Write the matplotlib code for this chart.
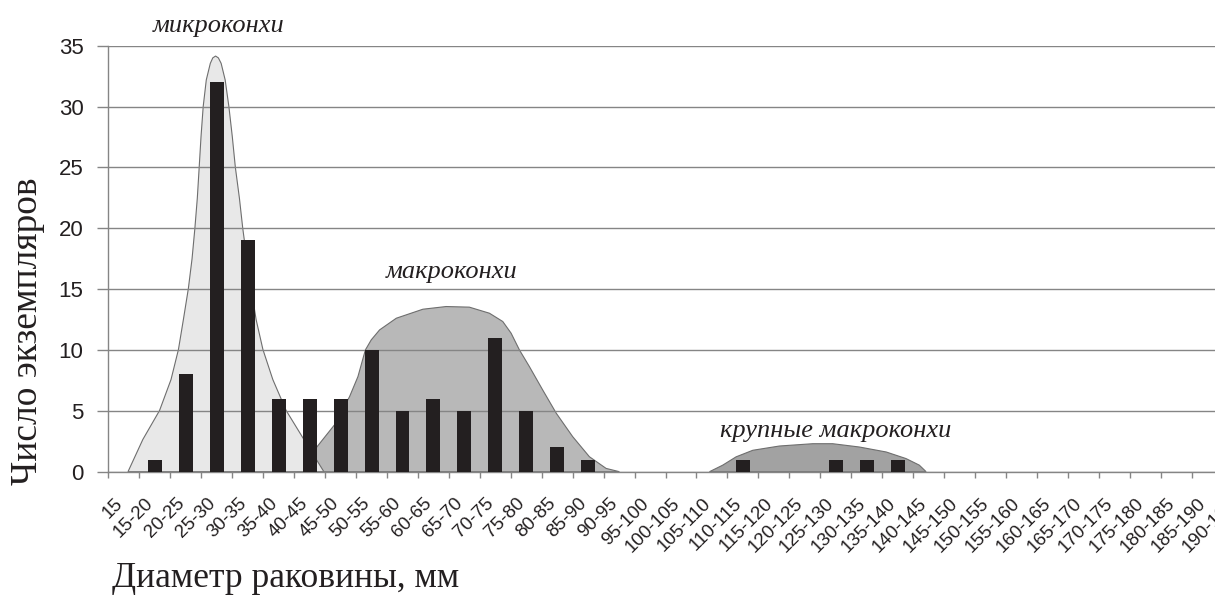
import matplotlib
matplotlib.use('Agg')
import matplotlib.pyplot as plt
import matplotlib.transforms as mtransforms

# size classes (mm) and counts
classes = ['15', '15-20', '20-25', '25-30', '30-35', '35-40', '40-45', '45-50',
           '50-55', '55-60', '60-65', '65-70', '70-75', '75-80', '80-85', '85-90',
           '90-95', '95-100', '100-105', '105-110', '110-115', '115-120', '120-125',
           '125-130', '130-135', '135-140', '140-145', '145-150', '150-155', '155-160',
           '160-165', '165-170', '170-175', '175-180', '180-185', '185-190', '190-195']
counts = [0, 1, 8, 32, 19, 6, 6, 6, 10, 5, 6, 5, 11, 5, 2, 1,
          0, 0, 0, 0, 1, 0, 0, 1, 1, 1, 0, 0, 0, 0, 0, 0, 0, 0, 0, 0, 0]

# envelope outlines (x in class index, y in count)
micro_x = [0.13, 0.61, 1.15, 1.52, 1.76, 1.92, 2.08, 2.20, 2.29, 2.37, 2.43, 2.49,
           2.56, 2.66, 2.79, 2.87, 2.96, 3.05, 3.14, 3.27, 3.39, 3.50, 3.60, 3.73,
           3.84, 3.97, 4.11, 4.27, 4.49, 4.81, 5.24, 5.85, 6.46]
micro_y = [0, 2.65, 5.03, 7.57, 10.04, 12.5, 15.04, 17.5, 19.96, 22.48, 24.99, 27.54,
           30.0, 32.19, 33.55, 34.0, 34.15, 34.0, 33.55, 32.19, 30.0, 27.54, 24.99, 22.48,
           19.96, 17.5, 15.04, 12.5, 10.04, 7.57, 5.03, 2.5, 0]

macro_x = [5.60, 6.16, 6.80, 7.29, 7.56, 7.80, 7.99, 8.26, 8.80, 9.66, 10.41, 11.16,
           11.81, 12.24, 12.51, 12.78, 13.10, 13.53, 13.97, 14.50, 15.04, 15.58, 16.01]
macro_y = [0, 1.8, 3.84, 6.17, 7.81, 10.0, 10.83, 11.65, 12.61, 13.35, 13.57, 13.52,
           13.02, 12.34, 11.38, 10.0, 8.64, 6.72, 4.80, 2.88, 1.23, 0.27, 0]

large_x = [18.92, 19.35, 19.78, 20.32, 21.18, 22.26, 22.90, 23.76, 24.63, 25.27, 25.70, 25.92]
large_y = [0, 0.54, 1.22, 1.76, 2.11, 2.30, 2.30, 2.03, 1.62, 1.08, 0.54, 0]

grey = '#858585'
ink = '#231f20'

fig = plt.figure(figsize=(12.15, 5.98), dpi=100)
# axes deliberately run past the right edge (the source chart is cropped there)
ax = fig.add_axes([108.5 / 1215, (598 - 471.7) / 598, 1145 / 1215, 426 / 598])

ax.fill(macro_x, macro_y, facecolor='#b8b8b8', edgecolor='#6e6e6e', lw=0.8, zorder=1)
ax.fill(micro_x, micro_y, facecolor='#e8e8e8', edgecolor='#6e6e6e', lw=0.8, zorder=1.1)
ax.fill(large_x, large_y, facecolor='#a2a2a2', edgecolor='#6e6e6e', lw=0.8, zorder=1)

xs = list(range(len(classes)))
ax.bar(xs, counts, width=0.45, color=ink, zorder=3)

ax.set_xlim(-0.5, len(classes) - 0.5)
ax.set_ylim(0, 35)
ax.set_yticks(range(0, 36, 5))
ax.set_axisbelow(False)
ax.grid(axis='y', color=grey, lw=1.0, zorder=2)
ax.grid(axis='x', visible=False)

for s in ['top', 'right']:
    ax.spines[s].set_visible(False)
for s in ['left', 'bottom']:
    ax.spines[s].set_color(grey)
    ax.spines[s].set_linewidth(1.0)

ax.tick_params(axis='y', length=8, width=1.0, color=grey, pad=10,
               labelsize=16, labelcolor=ink)
for lab in ax.get_yticklabels():
    lab.set_fontfamily('Liberation Sans')

ax.set_xticks(xs)
ax.set_xticks([x + 0.5 for x in range(-1, len(classes))], minor=True)
ax.set_xticklabels(classes, rotation=45, ha='right', va='center',
                   rotation_mode='anchor', fontsize=13.5, color=ink,
                   fontfamily='Liberation Sans')
ax.tick_params(axis='x', which='major', length=0, pad=21)
ax.tick_params(axis='x', which='minor', length=4.5, width=1.0, color=grey)
shift = mtransforms.ScaledTranslation(-0.04, 0, fig.dpi_scale_trans)
for lab in ax.get_xticklabels():
    lab.set_transform(lab.get_transform() + shift)

# group names
serif_it = dict(fontfamily='Liberation Serif', style='italic', fontsize=19,
                color=ink, ha='center', va='baseline')
ax.text(3.05, 36.1, 'микроконхи', **serif_it)
ax.text(10.58, 15.9, 'макроконхи', **serif_it)
ax.text(22.99, 2.88, 'крупные макроконхи', **serif_it)

fig.text(112 / 1215, 1 - 587 / 598, 'Диаметр раковины, мм', fontfamily='Liberation Serif',
         fontsize=25.5, color=ink, ha='left', va='baseline')
fig.text(37 / 1215, 1 - 331 / 598, 'Число экземпляров', fontfamily='Liberation Serif',
         fontsize=27, color=ink, rotation=90, rotation_mode='anchor',
         ha='center', va='baseline')

fig.savefig('out.png', dpi=100)
